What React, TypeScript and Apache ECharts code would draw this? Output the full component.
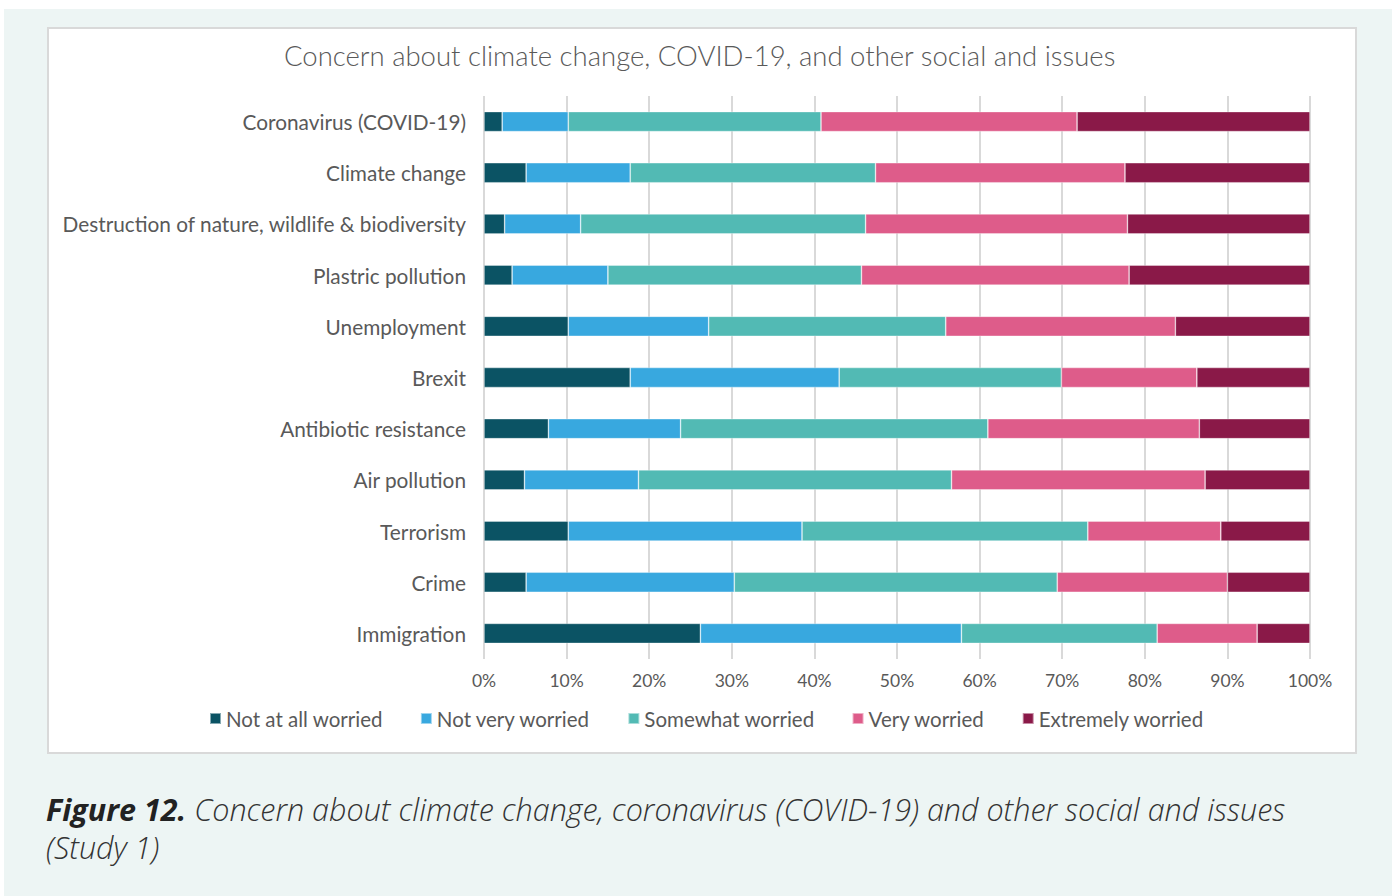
import React, { useEffect, useRef } from "react";
import * as echarts from "echarts";

const categories = [
  "Coronavirus (COVID-19)",
  "Climate change",
  "Destruction of nature, wildlife & biodiversity",
  "Plastric pollution",
  "Unemployment",
  "Brexit",
  "Antibiotic resistance",
  "Air pollution",
  "Terrorism",
  "Crime",
  "Immigration",
];

const seriesNames = [
  "Not at all worried",
  "Not very worried",
  "Somewhat worried",
  "Very worried",
  "Extremely worried",
];

const notAtAll = [2.2, 5.1, 2.5, 3.4, 10.2, 17.7, 7.8, 4.9, 10.2, 5.1, 26.2];
const notVery = [8.0, 12.6, 9.2, 11.6, 17.0, 25.3, 16.0, 13.8, 28.3, 25.2, 31.6];
const somewhat = [30.6, 29.7, 34.5, 30.7, 28.7, 26.9, 37.2, 37.9, 34.6, 39.1, 23.7];
const very = [31.0, 30.2, 31.7, 32.4, 27.8, 16.4, 25.6, 30.7, 16.1, 20.6, 12.1];
const extremely = [28.2, 22.4, 22.1, 21.9, 16.3, 13.7, 13.4, 12.7, 10.8, 10.0, 6.4];

const colors = ["#0B5364", "#38A8DF", "#52BAB4", "#DE5C8A", "#8A1948"];

const titleText = "Concern about climate change, COVID-19, and other social and issues";
const captionBold = "Figure 12.";
const captionLine1 = " Concern about climate change, coronavirus (COVID-19) and other social and issues";
const captionLine2 = "(Study 1)";

export default function App() {
  const ref = useRef<HTMLDivElement>(null);

  useEffect(() => {
    document.body.style.margin = "0";
    if (!ref.current) return;
    const chart = echarts.init(ref.current, null, { renderer: "svg" });
    const allData = [notAtAll, notVery, somewhat, very, extremely];
    const font = "Lato, 'Open Sans', sans-serif";
    const capFont = "'Open Sans', Lato, sans-serif";
    const capSize = 30.5;
    chart.setOption({
      animation: false,
      textStyle: { fontFamily: font },
      title: {
        text: titleText,
        left: 284,
        top: 41,
        padding: 0,
        textStyle: { fontSize: 27.5, fontWeight: 300, color: "#595959", fontFamily: font },
      },
      graphic: [
        {
          type: "rect",
          z: -10,
          silent: true,
          shape: { x: 4, y: 9, width: 1388, height: 887 },
          style: { fill: "#EDF5F4" },
        },
        {
          type: "rect",
          z: -9,
          silent: true,
          shape: { x: 48, y: 28, width: 1308, height: 725 },
          style: { fill: "#ffffff", stroke: "#D9D9D9", lineWidth: 2 },
        },
        {
          type: "text",
          x: 46,
          y: 809,
          style: {
            text: "{b|" + captionBold + "}{i|" + captionLine1 + "}",
            verticalAlign: "middle",
            rich: {
              b: { fontSize: capSize, fontStyle: "italic", fontWeight: "bold", fill: "#222222", fontFamily: capFont },
              i: { fontSize: capSize, fontStyle: "italic", fill: "#333333", fontFamily: capFont, fontWeight: 300 },
            },
          },
        },
        {
          type: "text",
          x: 46,
          y: 847,
          style: {
            text: captionLine2,
            verticalAlign: "middle",
            fontSize: capSize,
            fontStyle: "italic",
            fontWeight: 300,
            fill: "#333333",
            fontFamily: capFont,
          },
        },
      ],
      legend: {
        data: seriesNames,
        left: 204,
        top: 703,
        icon: "rect",
        itemWidth: 11,
        itemHeight: 11,
        itemGap: 37,
        textStyle: { fontSize: 20.5, color: "#595959", fontFamily: font },
      },
      grid: { left: 484, right: 82, top: 96, bottom: 237, containLabel: false },
      xAxis: {
        type: "value",
        min: 0,
        max: 100,
        interval: 10,
        axisLabel: { formatter: "{value}%", fontSize: 17.5, color: "#595959", margin: 12 },
        axisLine: { show: false },
        axisTick: { show: false },
        splitLine: { show: true, lineStyle: { color: "#D9D9D9", width: 2 } },
      },
      yAxis: {
        type: "category",
        data: categories,
        inverse: true,
        axisLine: { show: false },
        axisTick: { show: false },
        axisLabel: { fontSize: 20.8, color: "#595959", margin: 18, padding: [0, 0, 4, 0] },
      },
      series: seriesNames.map((name, i) => ({
        name,
        type: "bar",
        stack: "total",
        barWidth: 20,
        data: allData[i],
        itemStyle: { color: colors[i], borderColor: "rgba(255,255,255,0.5)", borderWidth: 0.7 },
      })),
    });
    return () => chart.dispose();
  }, []);

  return <div ref={ref} style={{ width: 1392, height: 896 }} />;
}
